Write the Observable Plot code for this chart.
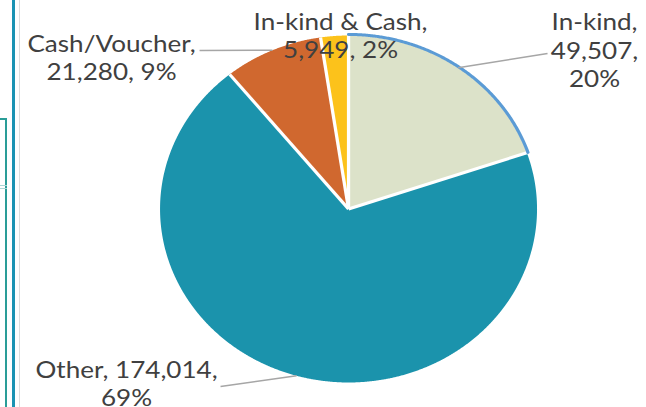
<!DOCTYPE html>
<html><head><meta charset="utf-8">
<script src="https://cdn.jsdelivr.net/npm/d3@7"></script>
<script src="https://cdn.jsdelivr.net/npm/@observablehq/plot@0.6"></script>
<style>
html,body{margin:0;padding:0;background:#fff;width:646px;height:407px;overflow:hidden;position:relative}
#chart{position:absolute;left:0;top:0;transform-origin:0 0}
.deco{position:absolute}
</style></head><body>
<div id="chart"></div>
<div class="deco" style="left:0;top:118px;width:5px;height:289px;border-top:2px solid #2a9d98;border-right:2px solid #2a9d98"></div>
<div class="deco" style="left:0;top:185px;width:7px;height:1px;background:#a9d6d4"></div>
<div class="deco" style="left:0;top:188px;width:7px;height:1px;background:#a9d6d4"></div>
<div class="deco" style="left:12px;top:0;width:3px;height:407px;background:#1b93b3"></div>
<div class="deco" style="left:19px;top:0;width:1px;height:407px;background:#dcdcdc"></div>
<script>
// ---- data ----
const categories = ["In-kind", "Other", "Cash/Voucher", "In-kind & Cash"];
const values = [49507, 174014, 21280, 5949];
const valueLabels = ["49,507", "174,014", "21,280", "5,949"];
const percentLabels = ["20%", "69%", "9%", "2%"];
const colors = ["#dce2c9", "#1b93ac", "#d0682f", "#fcc21b"];

// ---- layout (final picture pixels) ----
const cx = 348, cy = 208.5, rx = 188.5, ry = 173.5;
const S = rx / ry;               // horizontal stretch of the whole picture
const W = 646, H = 407, FS = 24, LH = 1.19;
const W0 = W / S;
// label: center x, first baseline, separators between name/value/percent, leader end
const labelLayout = [
  {x: 594, b: 26.5, seps: [",\n", ",\n"], end: [547, 53]},
  {x: 126, b: 374, seps: [", ", ",\n"], end: [220, 386]},
  {x: 111, b: 48, seps: [",\n", ", "], end: [199, 50]},
  {x: 340, b: 26, seps: [",\n", ", "], end: null}
];
const ux = px => (px - cx) / rx;
const uy = py => (cy - py) / ry;

const pie = d3.pie().sort(null).value(d => d)(values);
const slices = pie.map((p, i) => ({cat: categories[i], a0: p.startAngle, a1: p.endAngle, mid: (p.startAngle + p.endAngle) / 2, i}));

const wedgePts = slices.flatMap(s => {
  const n = Math.max(4, Math.ceil((s.a1 - s.a0) / (Math.PI / 720)));
  const pts = [{cat: s.cat, x: 0, y: 0}];
  for (let k = 0; k <= n; k++) {
    const a = s.a0 + (s.a1 - s.a0) * k / n;
    pts.push({cat: s.cat, x: Math.sin(a), y: Math.cos(a)});
  }
  pts.push({cat: s.cat, x: 0, y: 0});
  return pts;
});

const hl = slices[0];
const hlPts = d3.range(0, 201).map(k => {
  const a = hl.a0 + (hl.a1 - hl.a0) * k / 200;
  return {x: 1.006 * Math.sin(a), y: 1.006 * Math.cos(a)};
});

const labels = slices.map((s, i) => {
  const L = labelLayout[i];
  return {
    text: categories[i] + L.seps[0] + valueLabels[i] + L.seps[1] + percentLabels[i],
    x: ux(L.x), y: uy(L.b - 0.71 * FS)
  };
});
const leaders = slices.filter((s, i) => labelLayout[i].end).map(s => ({
  x1: Math.sin(s.mid), y1: Math.cos(s.mid),
  x2: ux(labelLayout[s.i].end[0]), y2: uy(labelLayout[s.i].end[1])
}));

const chart = Plot.plot({
  width: W0, height: H,
  margin: 0,
  x: {domain: [-1, 1], range: [(cx - rx) / S, (cx + rx) / S], axis: null},
  y: {domain: [-1, 1], range: [cy + ry, cy - ry], axis: null},
  color: {domain: categories, range: colors},
  style: {background: "transparent", fontFamily: "Lato, sans-serif", overflow: "visible"},
  marks: [
    Plot.line(wedgePts, {x: "x", y: "y", z: "cat", fill: "cat", stroke: "none", curve: "linear"}),
    Plot.link(slices, {x1: () => 0, y1: () => 0, x2: s => Math.sin(s.a0), y2: s => Math.cos(s.a0), stroke: "#fff", strokeWidth: 3}),
    Plot.line(hlPts, {x: "x", y: "y", stroke: "#5b9bd5", strokeWidth: 3}),
    Plot.link(leaders, {x1: "x1", y1: "y1", x2: "x2", y2: "y2", stroke: "#a6a6a6", strokeWidth: 1.5}),
    Plot.text(labels, {x: "x", y: "y", text: "text", textAnchor: "middle", lineAnchor: "top", lineHeight: LH, fontSize: FS, fill: "#404040", fontFamily: "Lato"})
  ]
});
const holder = document.getElementById("chart");
holder.style.transform = `scaleX(${S})`;
holder.appendChild(chart);
</script>
</body></html>
